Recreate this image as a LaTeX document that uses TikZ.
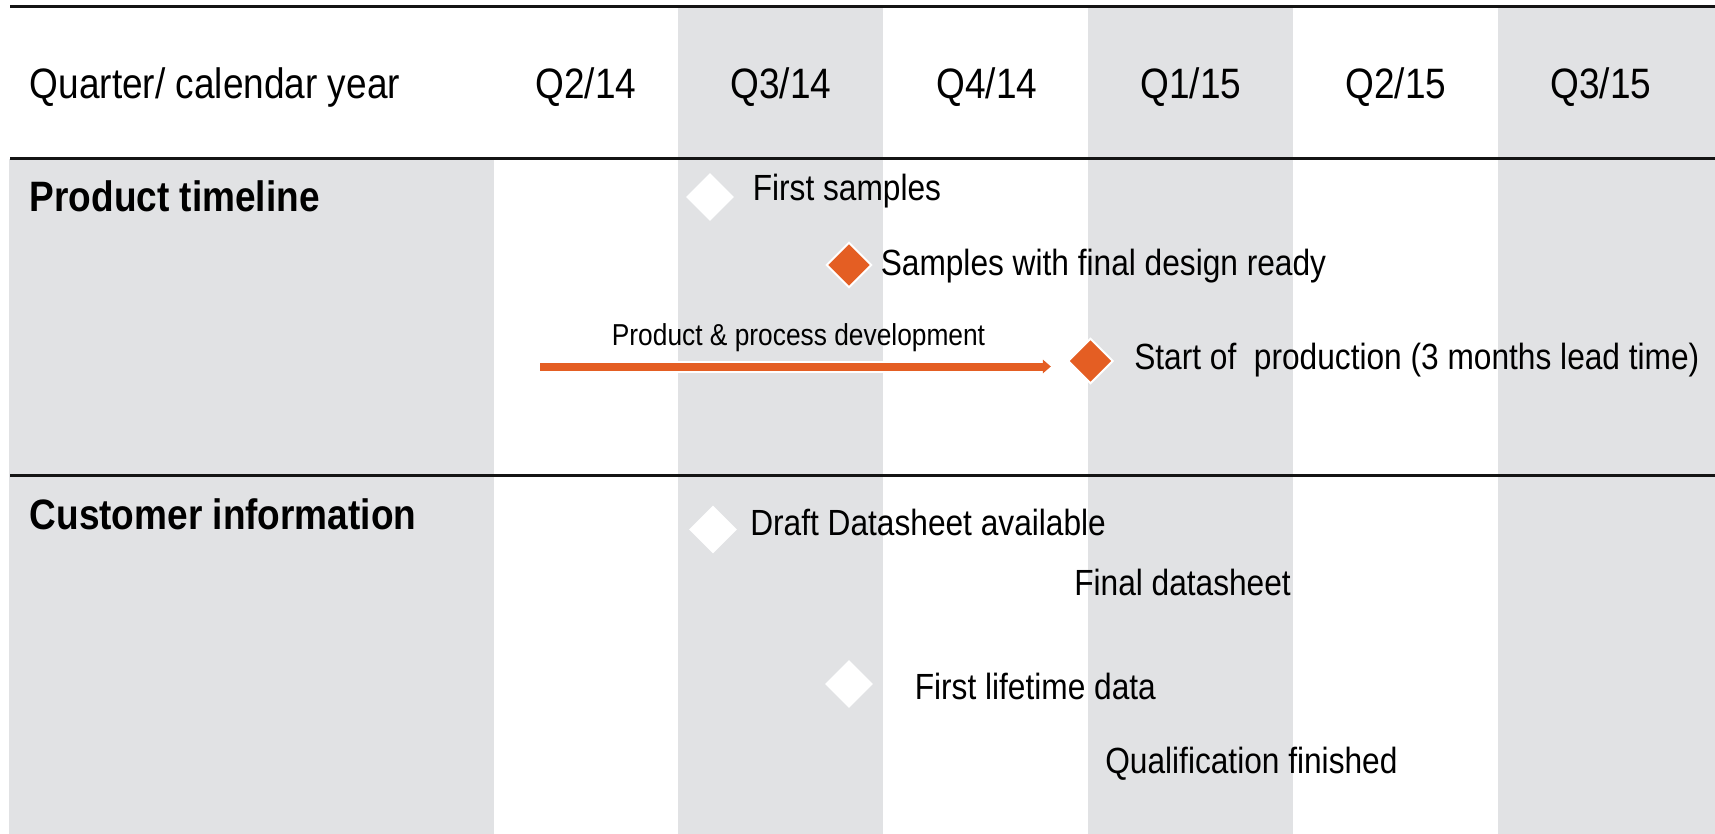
\documentclass[tikz,border=0pt]{standalone}
\usepackage{fontspec}
\setmainfont{Liberation Sans}[FakeStretch=0.87]
\usetikzlibrary{shapes.geometric,arrows.meta}
\definecolor{bandgray}{RGB}{225,226,228}
\definecolor{accent}{RGB}{228,94,35}
\definecolor{rulecol}{RGB}{20,20,20}

\begin{document}
\begin{tikzpicture}[x=0.75pt,y=-0.75pt,
  hdr/.style={font=\fontsize{31.9}{36}\selectfont, inner sep=0, anchor=base},
  sect/.style={font=\bfseries\fontsize{31.9}{36}\selectfont, inner sep=0, anchor=base west},
  item/.style={font=\fontsize{27.3}{32}\selectfont, inner sep=0, anchor=base west},
  small/.style={font=\fontsize{22.7}{26}\selectfont, inner sep=0, anchor=base},
  rule/.style={draw=rulecol, line width=2.2pt},
  milestone/.style={diamond, aspect=1, inner sep=0, minimum width=36pt, minimum height=36pt, fill=white},
  keymilestone/.style={diamond, aspect=1, inner sep=0, minimum width=34pt, minimum height=34pt, fill=accent, draw=white, line width=1.5pt},
]
\useasboundingbox (0,0) rectangle (1715,834);

% shaded bands: label column and alternate quarters
\fill[bandgray] (9,159) rectangle (494,834);
\fill[bandgray] (678,8) rectangle (883,834);
\fill[bandgray] (1088,8) rectangle (1293,834);
\fill[bandgray] (1498,8) rectangle (1715,834);

% horizontal rules
\draw[rule] (10,6.5) -- (1715,6.5);
\draw[rule] (10,158.6) -- (1715,158.6);
\draw[rule] (10,475.8) -- (1715,475.8);

% header row
\node[hdr, anchor=base west] (hq) at (29.5,98.5) {Quarter/ calendar year};
\node[hdr] (q1) at (586,98.5) {Q2/14};
\node[hdr] (q2) at (781,98.5) {Q3/14};
\node[hdr] (q3) at (987,98.5) {Q4/14};
\node[hdr] (q4) at (1191,98.5) {Q1/15};
\node[hdr] (q5) at (1396,98.5) {Q2/15};
\node[hdr] (q6) at (1601,98.5) {Q3/15};

% section titles
\node[sect] (secprod) at (29.5,212) {Product timeline};
\node[sect] (seccust) at (29.5,529.5) {Customer information};

% product timeline
\node[milestone] (firstsamp) at (710,197) {};
\node[item] (firstsampt) at (752.5,201) {First samples};
\node[keymilestone] (finaldes) at (849,265) {};
\node[item] (finaldest) at (880.5,275.6) {Samples with final design ready};
\node[keymilestone] (sop) at (1090.5,361) {};
\node[item] (sopt) at (1134,369.7) {Start of\ \ production (3 months lead time)};

\coordinate (devstart) at (540,366.5);
\draw[white, line width=9pt, -{Triangle[length=9pt,width=15pt]}, shorten >=10.5pt]
  (devstart) -- (devstart -| sop.west);
\draw[accent, line width=6pt, -{Triangle[length=6pt,width=10pt]}, shorten >=12pt]
  (devstart) -- (devstart -| sop.west);
\node[small] (devlabel) at (798.5,345.6) {Product \& process development};

% customer information
\node[milestone] (draftds) at (713,529.5) {};
\node[item] (draftdst) at (750,535) {Draft Datasheet available};
\node[item] (finalds) at (1074,595) {Final datasheet};
\node[milestone] (lifetime) at (849,684) {};
\node[item] (lifetimet) at (914.5,699) {First lifetime data};
\node[item] (qualfin) at (1105,773) {Qualification finished};
\end{tikzpicture}
\end{document}
